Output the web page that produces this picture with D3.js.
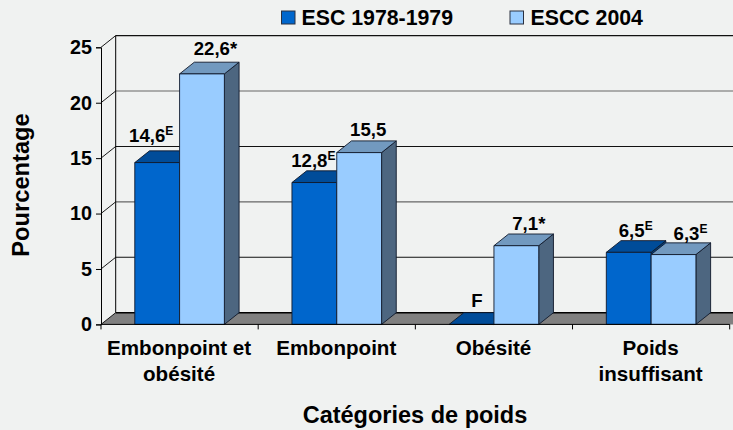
<!DOCTYPE html>
<html><head><meta charset="utf-8">
<script src="https://cdn.jsdelivr.net/npm/d3@7"></script>
<style>html,body{margin:0;padding:0;background:#f0f2f1;overflow:hidden}svg{display:block}
text{font-family:"Liberation Sans",Arial,sans-serif;font-weight:bold;fill:#000}</style>
</head><body><svg id="c" width="733" height="430"></svg>
<script>
const categories=[["Embonpoint et","obésité"],["Embonpoint"],["Obésité"],["Poids","insuffisant"]];
const seriesNames=["ESC 1978-1979","ESCC 2004"];
const esc1978=[14.6,12.8,0,6.5];
const escc2004=[22.6,15.5,7.1,6.3];
const labels1978=[["14,6","E"],["12,8","E"],["F",""],["6,5","E"]];
const labels2004=[["22,6*",""],["15,5",""],["7,1*",""],["6,3","E"]];
const labelShift1978=[[-6,-20.6],[-1,-15.5],[5.5,-17.7],[7,-15.5]];
const labelShift2004=[[13.5,-18.5],[9,-16.7],[12.5,-15.3],[17,-14.3]];
const yTicks=[0,5,10,15,20,25];
const gridColors=["#000","#111","#666","#111","#666","#111"];
const fills=[{front:"#0066cc",top:"#004c99",side:"#003d7a"},{front:"#99ccff",top:"#7299bf",side:"#4d6680"}];

const svg=d3.select("#c");
const dx=14.7,dy=-11.7,x0=101,xEnd=729.7,rightClip=740;
const y=d3.scaleLinear().domain([0,25]).range([324.4,47.3]);
const x=d3.scaleBand().domain(d3.range(categories.length)).range([x0,xEnd]);
const barW=44.8;
const inner=d3.scaleBand().domain([0,1]).range([-barW,barW]);
const poly=p=>p.map(a=>a.join(",")).join(" ");

// floor
svg.append("polygon").attr("points",poly([[x0,y(0)],[x0+dx,y(0)+dy],[rightClip,y(0)+dy],[rightClip,y(0)]])).attr("fill","#808080");
svg.append("line").attr("x1",x0+dx).attr("x2",rightClip).attr("y1",y(0)+dy).attr("y2",y(0)+dy).attr("stroke","#000").attr("stroke-width",1.4);
// walls and grid
yTicks.forEach((t,i)=>{
  if(t>0){svg.append("line").attr("x1",x0+dx).attr("x2",rightClip).attr("y1",y(t)+dy).attr("y2",y(t)+dy).attr("stroke",gridColors[i]).attr("stroke-width",1.1);}
  svg.append("line").attr("x1",x0).attr("x2",x0+dx).attr("y1",y(t)).attr("y2",y(t)+dy).attr("stroke","#000").attr("stroke-width",.9);
});
svg.append("line").attr("x1",x0+dx).attr("x2",x0+dx).attr("y1",y(25)+dy).attr("y2",y(0)+dy).attr("stroke","#000").attr("stroke-width",1);

// bars
const bars=[esc1978,escc2004];
categories.forEach((c,i)=>{
  const cx=x(i)+x.bandwidth()/2;
  [0,1].forEach(s=>{
    const v=bars[s][i],l=cx+inner(s),r=l+inner.bandwidth(),t=y(v),b=y(0),f=fills[s];
    const g=svg.append("g").attr("stroke","#10182a").attr("stroke-width",.9).attr("stroke-linejoin","round");
    g.append("polygon").attr("points",poly([[r,t],[r+dx,t+dy],[r+dx,b+dy],[r,b]])).attr("fill",f.side);
    g.append("polygon").attr("points",poly([[l,t],[l+dx,t+dy],[r+dx,t+dy],[r,t]])).attr("fill",f.top);
    g.append("rect").attr("x",l).attr("y",t).attr("width",r-l).attr("height",b-t).attr("fill",f.front);
  });
});
// axes
const yAxis=d3.axisLeft(y).tickValues(yTicks).tickSize(5).tickPadding(4).tickFormat(d3.format("d"));
const ga=svg.append("g").attr("transform",`translate(${x0},0)`).call(yAxis);
ga.select(".domain").attr("stroke","#000");ga.selectAll("line").attr("stroke","#000");
ga.selectAll("text").attr("font-size",19.8).attr("font-family",null).style("font-family",'"Liberation Sans"').style("font-weight","bold");
svg.append("line").attr("x1",x0).attr("x2",xEnd).attr("y1",y(0)).attr("y2",y(0)).attr("stroke","#000");
d3.range(categories.length+1).forEach(i=>{
  const p=x0+i*x.step();
  svg.append("line").attr("x1",p).attr("x2",p).attr("y1",y(0)).attr("y2",y(0)+5).attr("stroke","#000");
});
categories.forEach((c,i)=>{
  const cx=x(i)+x.bandwidth()/2-0.5;
  c.forEach((ln,k)=>svg.append("text").attr("x",cx).attr("y",355+k*26).attr("text-anchor","middle").attr("font-size",20.6).text(ln));
});
// value labels
const dataLabel=(text,sup,px,py)=>{
  const t=svg.append("text").attr("x",px).attr("y",py).attr("text-anchor","middle").attr("font-size",18.6).text(text);
  if(sup)t.append("tspan").attr("dy",-7).attr("font-size",12).text(sup);
};
categories.forEach((c,i)=>{
  const cx=x(i)+x.bandwidth()/2;
  [[labels1978,labelShift1978,esc1978,0],[labels2004,labelShift2004,escc2004,1]].forEach(([ls,sh,vals,s])=>{
    dataLabel(ls[i][0],ls[i][1],cx+inner(s)+barW/2+sh[i][0],y(vals[i])+sh[i][1]);
  });
});
// titles
svg.append("text").attr("transform","translate(29,185) rotate(-90)").attr("text-anchor","middle").attr("font-size",23.7).text("Pourcentage");
svg.append("text").attr("x",415).attr("y",423).attr("text-anchor","middle").attr("font-size",23.5).text("Catégories de poids");
// legend
const legX=[281.5,510],legTx=[301.5,530.5];
seriesNames.forEach((n,i)=>{
  svg.append("rect").attr("x",legX[i]).attr("y",11).attr("width",13.5).attr("height",13).attr("fill",fills[i].front).attr("stroke","#2a3040").attr("stroke-width",1);
  svg.append("text").attr("x",legTx[i]).attr("y",24.5).attr("font-size",21.3).text(n);
});
</script></body></html>
